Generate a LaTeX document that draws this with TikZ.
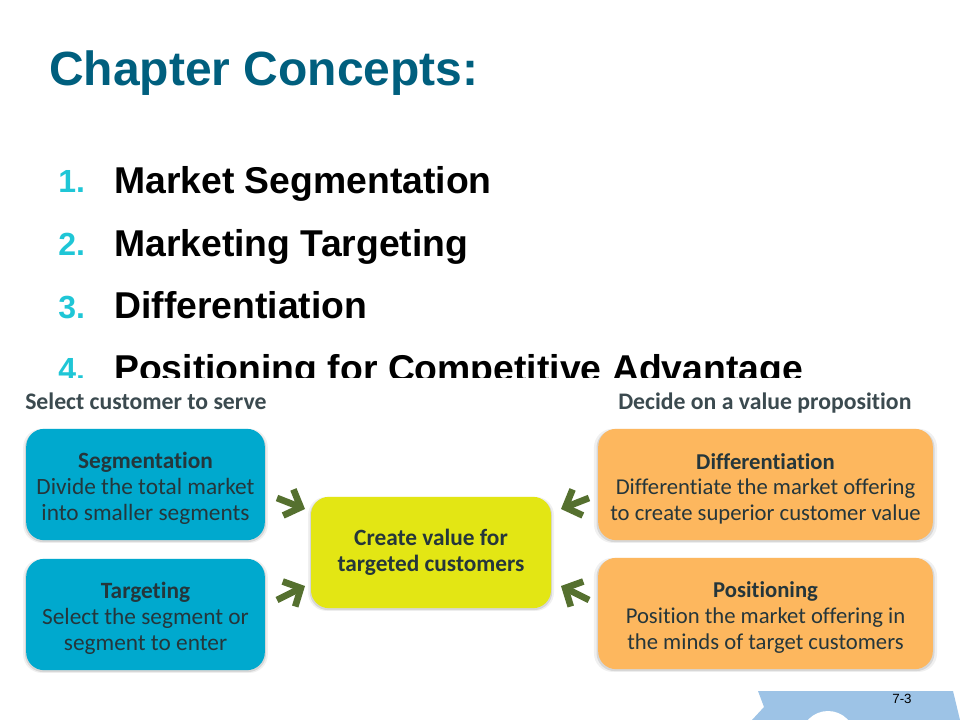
\documentclass[tikz,border=0pt]{standalone}
\usepackage{fontspec}
\setmainfont{Liberation Sans}
\newfontfamily\boxfont[Ligatures=CommonOff]{Carlito}
\usetikzlibrary{arrows.meta,shadows}
\definecolor{titleblue}{HTML}{005F7E}
\definecolor{numcyan}{HTML}{1FC6D6}
\definecolor{boxblue}{HTML}{00A9CE}
\definecolor{boxorange}{HTML}{FDB75E}
\definecolor{boxyellow}{HTML}{E3E614}
\definecolor{boxtext}{HTML}{25363B}
\definecolor{arrowgreen}{HTML}{55702F}
\definecolor{tabblue}{HTML}{9DC3E6}
\newcommand{\boxhead}[1]{\rule{0pt}{18pt}\textbf{#1}}
\tikzset{
    listnum/.style={anchor=base west, inner sep=0pt, text=numcyan, font=\fontsize{24}{28}\selectfont\bfseries},
    listitem/.style={anchor=base west, inner sep=0pt, font=\fontsize{28}{32}\selectfont\bfseries},
    headlabel/.style={anchor=base west, inner sep=0pt, text=boxtext!90!white, font=\boxfont\fontsize{17.8}{20}\selectfont\bfseries},
    conceptbox/.style={rounded corners=13.5pt, minimum height=83.5pt, align=center, inner sep=0pt, text=boxtext,
        font=\boxfont\fontsize{17.5}{19.2}\selectfont,
        general shadow={shadow xshift=0pt, shadow yshift=-1pt, shadow scale=1.01, fill=black, opacity=0.10},
        general shadow={shadow xshift=0pt, shadow yshift=-1pt, shadow scale=1.025, fill=black, opacity=0.06}},
    bluebox/.style={conceptbox, fill=boxblue, minimum width=179pt},
    orangebox/.style={conceptbox, fill=boxorange, minimum width=251pt, font=\boxfont\fontsize{17}{19.2}\selectfont},
    yellowbox/.style={conceptbox, fill=boxyellow, minimum width=180pt},
    chevron/.style={draw=arrowgreen, line width=5pt, -{Straight Barb[length=10pt,width=21pt,line width=5pt]}}
}
\begin{document}
\begin{tikzpicture}[x=0.75pt, y=-0.75pt]
    \useasboundingbox (0,0) rectangle (960,720);

    % slide text
    \node[anchor=base west, inner sep=0pt, text=titleblue, font=\fontsize{36}{40}\selectfont\bfseries] (title) at (49,86) {Chapter Concepts:};
    \node[listnum] (num1) at (58,193) {1.};
    \node[listitem] (item1) at (114,194) {Market Segmentation};
    \node[listnum] (num2) at (58,256) {2.};
    \node[listitem] (item2) at (114,257) {Marketing Targeting};
    \node[listnum] (num3) at (58,318) {3.};
    \node[listitem] (item3) at (114,319) {Differentiation};
    \node[listnum] (num4) at (58,380) {4.};
    \node[listitem] (item4) at (114,381) {Positioning for Competitive Advantage};

    % picture sits on top of the list
    \fill[white] (0,378) rectangle (960,720);

    % tab at the bottom
    \fill[tabblue] (758,691) -- (953,691) -- (960,720) -- (752,720) -- (764,707) -- cycle;
    \begin{scope}
        \clip (0,0) rectangle (960,720);
        \fill[white] (828,738) circle (27);
    \end{scope}
    \node[inner sep=0pt, font=\fontsize{10}{12}\selectfont] (pagenum) at (902,699) {7-3};

    % labels
    \node[headlabel] (selectlabel) at (25,409) {Select customer to serve};
    \node[headlabel] (decidelabel) at (618,409) {Decide on a value proposition};

    % boxes
    \node[bluebox] (segbox) at (145.5,484.5) {\boxhead{Segmentation}\\Divide the total market\\into smaller segments};
    \node[bluebox] (tarbox) at (145.5,614.5) {\boxhead{Targeting}\\Select the segment or\\segment to enter};
    \node[yellowbox] (valuebox) at (431,552.5) {\textbf{Create value for}\\\textbf{targeted customers}};
    \node[orangebox] (difbox) at (765.5,484.5) {\boxhead{Differentiation}\\Differentiate the market offering\\to create superior customer value};
    \node[orangebox] (posbox) at (765.5,613.5) {\boxhead{Positioning}\\Position the market offering in\\the minds of target customers};

    % arrows
    \coordinate (segstart) at (277,498);
    \coordinate (segend) at (305,509);
    \coordinate (tarstart) at (277,600);
    \coordinate (tarend) at (305,586);
    \coordinate (difstart) at (589,498);
    \coordinate (difend) at (561,509);
    \coordinate (posstart) at (589,600);
    \coordinate (posend) at (561,586);
    \draw[chevron] (segstart) -- (segend);
    \draw[chevron] (tarstart) -- (tarend);
    \draw[chevron] (difstart) -- (difend);
    \draw[chevron] (posstart) -- (posend);
\end{tikzpicture}
\end{document}
